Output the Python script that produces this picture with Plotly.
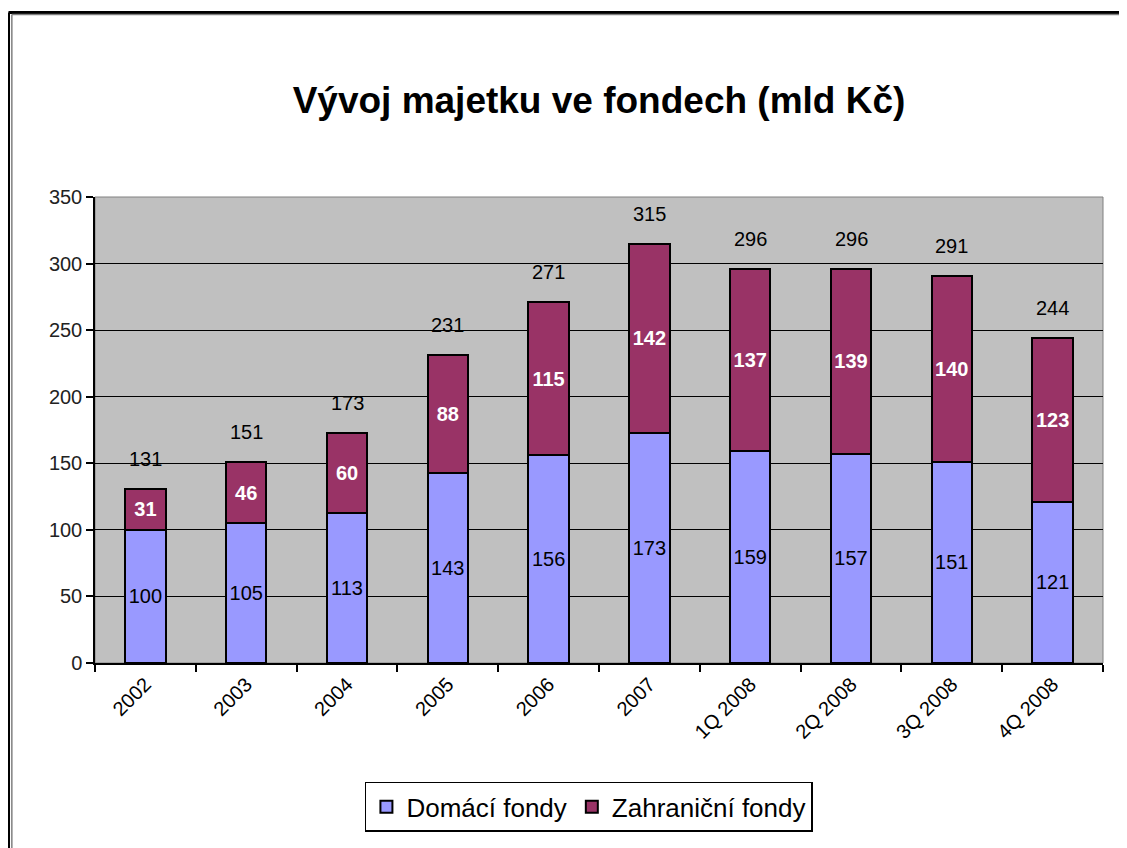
import plotly.graph_objects as go

categories = ["2002", "2003", "2004", "2005", "2006", "2007", "1Q 2008", "2Q 2008", "3Q 2008", "4Q 2008"]
domaci = [100, 105, 113, 143, 156, 173, 159, 157, 151, 121]
zahranicni = [31, 46, 60, 88, 115, 142, 137, 139, 140, 123]
totals = [131, 151, 173, 231, 271, 315, 296, 296, 291, 244]
y_ticks = [0, 50, 100, 150, 200, 250, 300, 350]

FONT = "Liberation Sans, Arial, sans-serif"

fig = go.Figure()
fig.add_trace(go.Bar(
    x=categories, y=domaci, name="Domácí fondy",
    marker=dict(color="#9999FF", line=dict(color="black", width=2)),
    text=domaci, textposition="inside", insidetextanchor="middle",
    textfont=dict(family=FONT, size=20, color="black"),
    constraintext="none",
))
fig.add_trace(go.Bar(
    x=categories, y=zahranicni, name="Zahraniční fondy",
    marker=dict(color="#993366", line=dict(color="black", width=2)),
    text=zahranicni, textposition="inside", insidetextanchor="middle",
    texttemplate="<b>%{text}</b>",
    textfont=dict(family=FONT, size=20, color="white"),
    constraintext="none",
))

for i, t in enumerate(totals):
    fig.add_annotation(x=i, y=t, text=str(t), showarrow=False, yshift=30,
                       font=dict(family=FONT, size=20, color="black"))

# chart border (top and left visible)
fig.add_shape(type="line", xref="paper", yref="paper", x0=-0.0858, x1=1.2, y0=1.396, y1=1.396,
              line=dict(color="black", width=3))
fig.add_shape(type="line", xref="paper", yref="paper", x0=-0.0858, x1=-0.0858, y0=1.396, y1=-0.5,
              line=dict(color="black", width=3))
fig.add_shape(type="line", xref="paper", yref="paper", x0=-0.0825, x1=1.2, y0=1.3915, y1=1.3915,
              line=dict(color="#808080", width=1.5))
fig.add_shape(type="line", xref="paper", yref="paper", x0=-0.0825, x1=-0.0825, y0=1.3915, y1=-0.5,
              line=dict(color="#808080", width=1.5))
# plot area frame
fig.add_shape(type="rect", xref="paper", yref="paper", x0=0, x1=1, y0=0, y1=1,
              line=dict(color="#808080", width=1), layer="below")

fig.update_layout(
    width=1119, height=840,
    margin=dict(l=87, r=24, t=189, b=185),
    barmode="stack", bargap=0.6,
    paper_bgcolor="white", plot_bgcolor="#C0C0C0",
    font=dict(family=FONT, color="black"),
    title=dict(text="<b>Vývoj majetku ve fondech (mld Kč)</b>", x=0.5, xanchor="center",
               xref="paper", y=1 - 92 / 840, yanchor="middle",
               font=dict(family=FONT, size=37, color="black")),
    showlegend=True,
    legend=dict(orientation="h", x=0.49, xanchor="center", y=-0.255, yanchor="top",
                bordercolor="black", borderwidth=1.5, bgcolor="white",
                font=dict(family=FONT, size=26, color="black"),
                traceorder="normal", itemwidth=30),
    xaxis=dict(type="category", range=[-0.5, len(categories) - 0.5],
               tickangle=-45, tickson="boundaries", ticks="outside", ticklen=7,
               tickcolor="black", tickwidth=1.5, showline=True, linecolor="black", linewidth=1.5,
               tickfont=dict(family=FONT, size=20, color="black"), showgrid=False),
    yaxis=dict(range=[0, 350], tickvals=y_ticks, ticks="outside", ticklen=7,
               tickcolor="black", tickwidth=1.5, showline=True, linecolor="black", linewidth=1.5,
               gridcolor="black", gridwidth=1, zeroline=False,
               tickfont=dict(family=FONT, size=20, color="#222222")),
)

fig.write_html("out.html")
